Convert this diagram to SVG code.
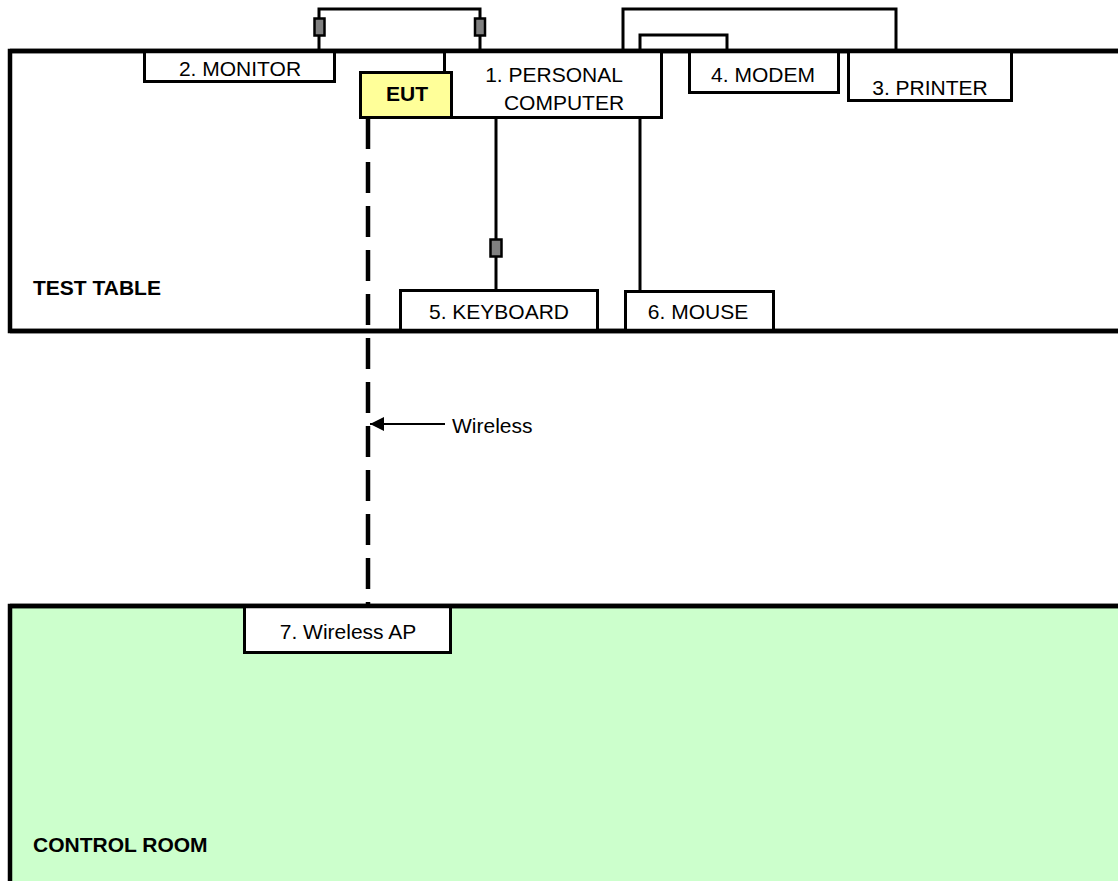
<svg xmlns="http://www.w3.org/2000/svg" width="1118" height="881" viewBox="0 0 1118 881">
<style>
.area{stroke:#000;stroke-width:4.5}
.box{fill:#fff;stroke:#000;stroke-width:3}
.cab{fill:none;stroke:#000;stroke-width:3}
.con{fill:#808080;stroke:#000;stroke-width:2.5}
.t{font-family:"Liberation Sans",Arial,sans-serif;font-size:21px;fill:#000}
.b{font-weight:bold}
.m{text-anchor:middle}
</style>
<defs>
<marker id="ah" markerWidth="14" markerHeight="14" refX="14" refY="7" orient="auto" markerUnits="userSpaceOnUse">
<path d="M0,0 L14,7 L0,14 Z" fill="#000"/>
</marker>
</defs>
<rect width="1118" height="881" fill="#fff"/>
<g id="test-table">
<rect class="area" x="10" y="51" width="1120" height="280" fill="#fff"/>
<text class="t b" x="33" y="295">TEST TABLE</text>
</g>
<g id="control-room">
<rect class="area" x="10" y="606" width="1120" height="300" fill="#CCFFCC"/>
<text class="t b" x="33" y="852">CONTROL ROOM</text>
</g>
<g id="connectors">
<polyline class="cab" points="319,51 319,9 480,9 480,51"/>
<rect class="con" x="314.5" y="18.5" width="10" height="17"/>
<rect class="con" x="475" y="18.5" width="10" height="17"/>
<polyline class="cab" points="623,51 623,9 896,9 896,51"/>
<polyline class="cab" points="640,51 640,35 727,35 727,51"/>
<line class="cab" x1="496" y1="119" x2="496" y2="290"/>
<rect class="con" x="490.5" y="239.5" width="11" height="17"/>
<line class="cab" x1="640" y1="119" x2="640" y2="291"/>
<line x1="368" y1="118" x2="368" y2="606" stroke="#000" stroke-width="4.5" stroke-dasharray="31 13"/>
<line x1="445" y1="424" x2="370" y2="424" stroke="#000" stroke-width="2" marker-end="url(#ah)"/>
<text class="t" x="452" y="433">Wireless</text>
</g>
<g id="monitor">
<rect class="box" x="144.5" y="51" width="190" height="30.5"/>
<text class="t m" x="240" y="76">2. MONITOR</text>
</g>
<g id="personal-computer">
<rect class="box" x="444.5" y="51" width="217" height="66.5"/>
<text class="t m" x="554" y="82">1. PERSONAL</text>
<text class="t m" x="564" y="110">COMPUTER</text>
</g>
<g id="eut">
<rect x="360.5" y="72.5" width="91" height="45" fill="#FFFF99" stroke="#000" stroke-width="3"/>
<text class="t b m" x="407" y="101">EUT</text>
</g>
<g id="modem">
<rect class="box" x="689.5" y="51" width="149" height="41.5"/>
<text class="t m" x="763" y="82">4. MODEM</text>
</g>
<g id="printer">
<rect class="box" x="848.5" y="51" width="163" height="49.5"/>
<text class="t m" x="930" y="95">3. PRINTER</text>
</g>
<g id="keyboard">
<rect class="box" x="400.5" y="290.5" width="197" height="40"/>
<text class="t m" x="499" y="319">5. KEYBOARD</text>
</g>
<g id="mouse">
<rect class="box" x="625.5" y="291.5" width="148" height="39"/>
<text class="t m" x="698" y="319">6. MOUSE</text>
</g>
<g id="wireless-ap">
<rect class="box" x="244.5" y="606" width="206" height="46.5"/>
<text class="t m" x="348" y="639">7. Wireless AP</text>
</g>
<line x1="10" y1="51" x2="1118" y2="51" stroke="#000" stroke-width="4.5"/>
<line x1="10" y1="331" x2="1118" y2="331" stroke="#000" stroke-width="4.5"/>
<line x1="10" y1="606" x2="1118" y2="606" stroke="#000" stroke-width="4.5"/>
</svg>
